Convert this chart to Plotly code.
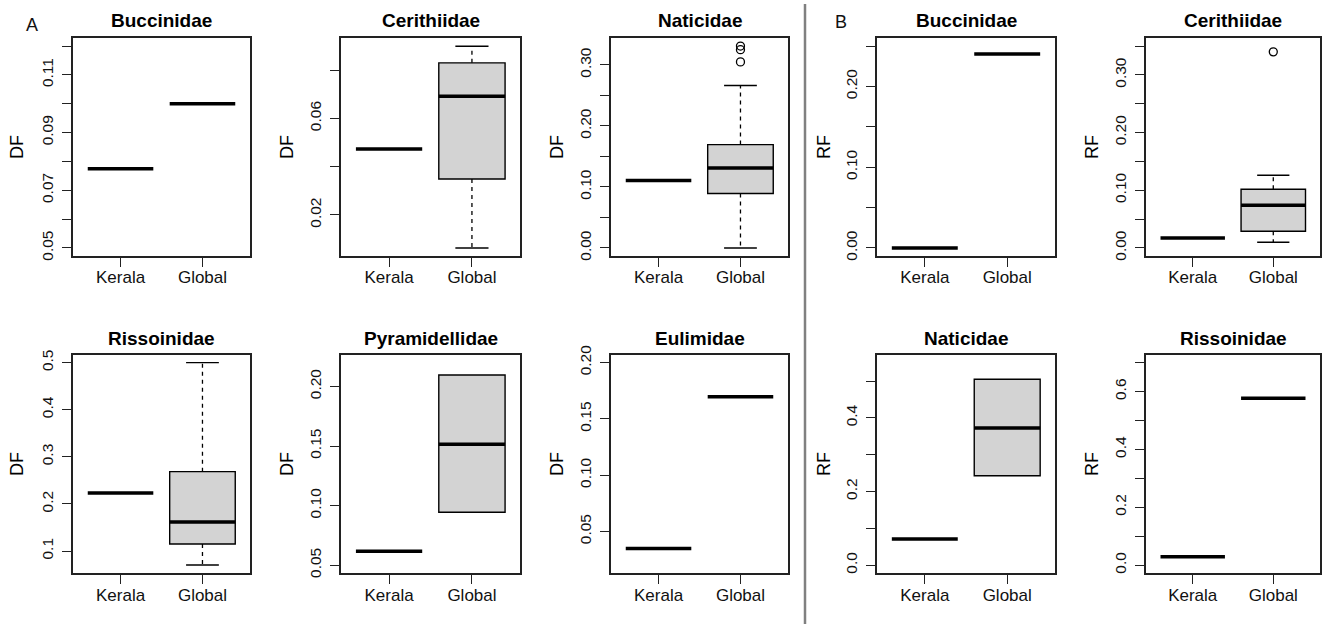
import plotly.graph_objects as go

# ---------------- data ----------------
groups = ["Kerala", "Global"]
titles = ["Buccinidae", "Cerithiidae", "Naticidae", "Rissoinidae", "Pyramidellidae",
          "Eulimidae", "Buccinidae", "Cerithiidae", "Naticidae", "Rissoinidae"]
metric = ["DF", "DF", "DF", "DF", "DF", "DF", "RF", "RF", "RF", "RF"]

kerala_value = [0.0775, 0.0473, 0.1106, 0.2232, 0.0618, 0.0348, 0.0, 0.0174, 0.0712, 0.0288]
global_lower = [0.100, 0.0063, 0.0, 0.0703, 0.0944, 0.1696, 0.2401, 0.0098, 0.2427, 0.577]
global_q1 = [0.100, 0.0349, 0.0893, 0.115, 0.0944, 0.1696, 0.2401, 0.029, 0.2427, 0.577]
global_median = [0.100, 0.0692, 0.1312, 0.1616, 0.1515, 0.1696, 0.2401, 0.0738, 0.3726, 0.577]
global_q3 = [0.100, 0.0830, 0.1694, 0.2685, 0.2096, 0.1696, 0.2401, 0.1017, 0.505, 0.577]
global_upper = [0.100, 0.0899, 0.2663, 0.5, 0.2096, 0.1696, 0.2401, 0.126, 0.505, 0.577]
global_outliers = [[], [], [0.305, 0.325, 0.331], [], [], [], [], [0.340], [], []]

y_range = [[0.0472, 0.1228], [0.0030, 0.0933], [-0.0132, 0.3442], [0.0528, 0.5172],
           [0.0432, 0.2268], [0.0128, 0.2072], [-0.010, 0.260], [-0.014, 0.364],
           [-0.022, 0.572], [-0.028, 0.728]]
y_ticks = [[0.05, 0.06, 0.07, 0.08, 0.09, 0.10, 0.11, 0.12],
           [0.02, 0.04, 0.06, 0.08],
           [0.0, 0.05, 0.10, 0.15, 0.20, 0.25, 0.30],
           [0.1, 0.2, 0.3, 0.4, 0.5],
           [0.05, 0.10, 0.15, 0.20],
           [0.05, 0.10, 0.15, 0.20],
           [0.0, 0.05, 0.10, 0.15, 0.20, 0.25],
           [0.0, 0.05, 0.10, 0.15, 0.20, 0.25, 0.30, 0.35],
           [0.0, 0.1, 0.2, 0.3, 0.4, 0.5],
           [0.0, 0.1, 0.2, 0.3, 0.4, 0.5, 0.6, 0.7]]
y_ticklabels = [["0.05", "", "0.07", "", "0.09", "", "0.11", ""],
                ["0.02", "", "0.06", ""],
                ["0.00", "", "0.10", "", "0.20", "", "0.30"],
                ["0.1", "0.2", "0.3", "0.4", "0.5"],
                ["0.05", "0.10", "0.15", "0.20"],
                ["0.05", "0.10", "0.15", "0.20"],
                ["0.00", "", "0.10", "", "0.20", ""],
                ["0.00", "", "0.10", "", "0.20", "", "0.30", ""],
                ["0.0", "", "0.2", "", "0.4", ""],
                ["0.0", "", "0.2", "", "0.4", "", "0.6", ""]]
panel_letters = ["A", "B"]

# ---------------- layout (pixels) ----------------
W, H = 1327, 624
col_px = [(73, 250), (341, 520), (611, 788), (877, 1055), (1146, 1320)]
row_px = [(38, 256), (354.5, 573.3)]
ylab_px = [17, 287, 557, 824, 1092]
title_py = [20.5, 338.5]
panel_col = [0, 1, 2, 0, 1, 2, 3, 4, 3, 4]
panel_row = [0, 0, 0, 1, 1, 1, 0, 0, 1, 1]

FONT = "Liberation Sans, Arial, sans-serif"
BOX_W = 0.8
STAPLE_HALF = 0.2
FILL = "#d3d3d3"


def px_x(p):
    return p / W


def px_y(p):
    return 1 - p / H


fig = go.Figure()
annotations = []
layout_axes = {}


def add_median(xa, ya, pos, val):
    fig.add_trace(go.Box(x=[pos], q1=[val], median=[val], q3=[val],
                         lowerfence=[val], upperfence=[val], width=BOX_W,
                         whiskerwidth=0, fillcolor="rgba(0,0,0,0)",
                         line=dict(color="black", width=3.5),
                         xaxis=xa, yaxis=ya, showlegend=False, hoverinfo="skip"))


def add_whisker(xa, ya, pos, a, b):
    if abs(a - b) < 1e-12:
        return
    fig.add_trace(go.Scatter(x=[pos, pos], y=[a, b], mode="lines",
                             line=dict(color="black", width=1.3, dash="4px,4px"),
                             xaxis=xa, yaxis=ya, showlegend=False, hoverinfo="skip"))
    fig.add_trace(go.Scatter(x=[pos - STAPLE_HALF, pos + STAPLE_HALF], y=[b, b],
                             mode="lines", line=dict(color="black", width=1.4),
                             xaxis=xa, yaxis=ya, showlegend=False, hoverinfo="skip"))


for i in range(10):
    c, r = panel_col[i], panel_row[i]
    suffix = "" if i == 0 else str(i + 1)
    xa, ya = "x" + suffix, "y" + suffix

    # Kerala: single value
    add_median(xa, ya, 1, kerala_value[i])

    # Global
    pos = 2
    if global_q3[i] > global_q1[i]:
        add_whisker(xa, ya, pos, global_q3[i], global_upper[i])
        add_whisker(xa, ya, pos, global_q1[i], global_lower[i])
        fig.add_trace(go.Box(x=[pos], q1=[global_q1[i]], median=[global_median[i]],
                             q3=[global_q3[i]], lowerfence=[global_q1[i]],
                             upperfence=[global_q3[i]], width=BOX_W, whiskerwidth=0,
                             fillcolor=FILL, line=dict(color="black", width=1.4),
                             xaxis=xa, yaxis=ya, showlegend=False, hoverinfo="skip"))
    add_median(xa, ya, pos, global_median[i])
    if global_outliers[i]:
        fig.add_trace(go.Scatter(x=[pos] * len(global_outliers[i]), y=global_outliers[i],
                                 mode="markers",
                                 marker=dict(symbol="circle-open", size=8, color="black",
                                             line=dict(width=1.3)),
                                 xaxis=xa, yaxis=ya, showlegend=False, hoverinfo="skip"))

    x0, x1 = col_px[c]
    y0, y1 = row_px[r]
    layout_axes["xaxis" + suffix] = dict(
        domain=[px_x(x0), px_x(x1)], range=[0.42, 2.58], anchor=ya, automargin=False,
        tickmode="array", tickvals=[1, 2], ticktext=groups,
        ticks="outside", ticklen=9, tickwidth=1.4, tickcolor="#222",
        showline=True, mirror=True, linecolor="#222", linewidth=1.6,
        showgrid=False, zeroline=False, fixedrange=True, ticklabelstandoff=-4,
        tickfont=dict(family=FONT, size=17, color="#111"))
    layout_axes["yaxis" + suffix] = dict(
        domain=[px_y(y1), px_y(y0)], range=y_range[i], anchor=xa, automargin=False,
        tickmode="array", tickvals=y_ticks[i], ticktext=y_ticklabels[i],
        tickangle=-90, ticks="outside", ticklen=9, tickwidth=1.4, tickcolor="#222",
        showline=True, mirror=True, linecolor="#222", linewidth=1.6,
        showgrid=False, zeroline=False, fixedrange=True, ticklabelstandoff=3,
        tickfont=dict(family=FONT, size=15.5, color="#111"))

    annotations.append(dict(text="<b>%s</b>" % titles[i], xref="paper", yref="paper",
                            x=px_x((x0 + x1) / 2), y=px_y(title_py[r]),
                            xanchor="center", yanchor="middle", showarrow=False,
                            font=dict(family=FONT, size=19, color="black")))
    annotations.append(dict(text=metric[i], xref="paper", yref="paper",
                            x=px_x(ylab_px[c]), y=px_y((y0 + y1) / 2), textangle=-90,
                            xanchor="center", yanchor="middle", showarrow=False,
                            font=dict(family=FONT, size=18, color="black")))

annotations.append(dict(text=panel_letters[0], xref="paper", yref="paper",
                        x=px_x(32), y=px_y(25), xanchor="center", yanchor="middle",
                        showarrow=False, font=dict(family=FONT, size=18, color="#111")))
annotations.append(dict(text=panel_letters[1], xref="paper", yref="paper",
                        x=px_x(841), y=px_y(22), xanchor="center", yanchor="middle",
                        showarrow=False, font=dict(family=FONT, size=18, color="#111")))

fig.update_layout(
    width=W, height=H, margin=dict(l=0, r=0, t=0, b=0, autoexpand=False),
    paper_bgcolor="white", plot_bgcolor="white", boxmode="overlay",
    showlegend=False, annotations=annotations,
    shapes=[dict(type="line", xref="paper", yref="paper",
                 x0=px_x(805), x1=px_x(805), y0=px_y(4), y1=px_y(624),
                 line=dict(color="#808080", width=2.5))],
    **layout_axes)

fig.write_html("out.html", config={"displayModeBar": False})
